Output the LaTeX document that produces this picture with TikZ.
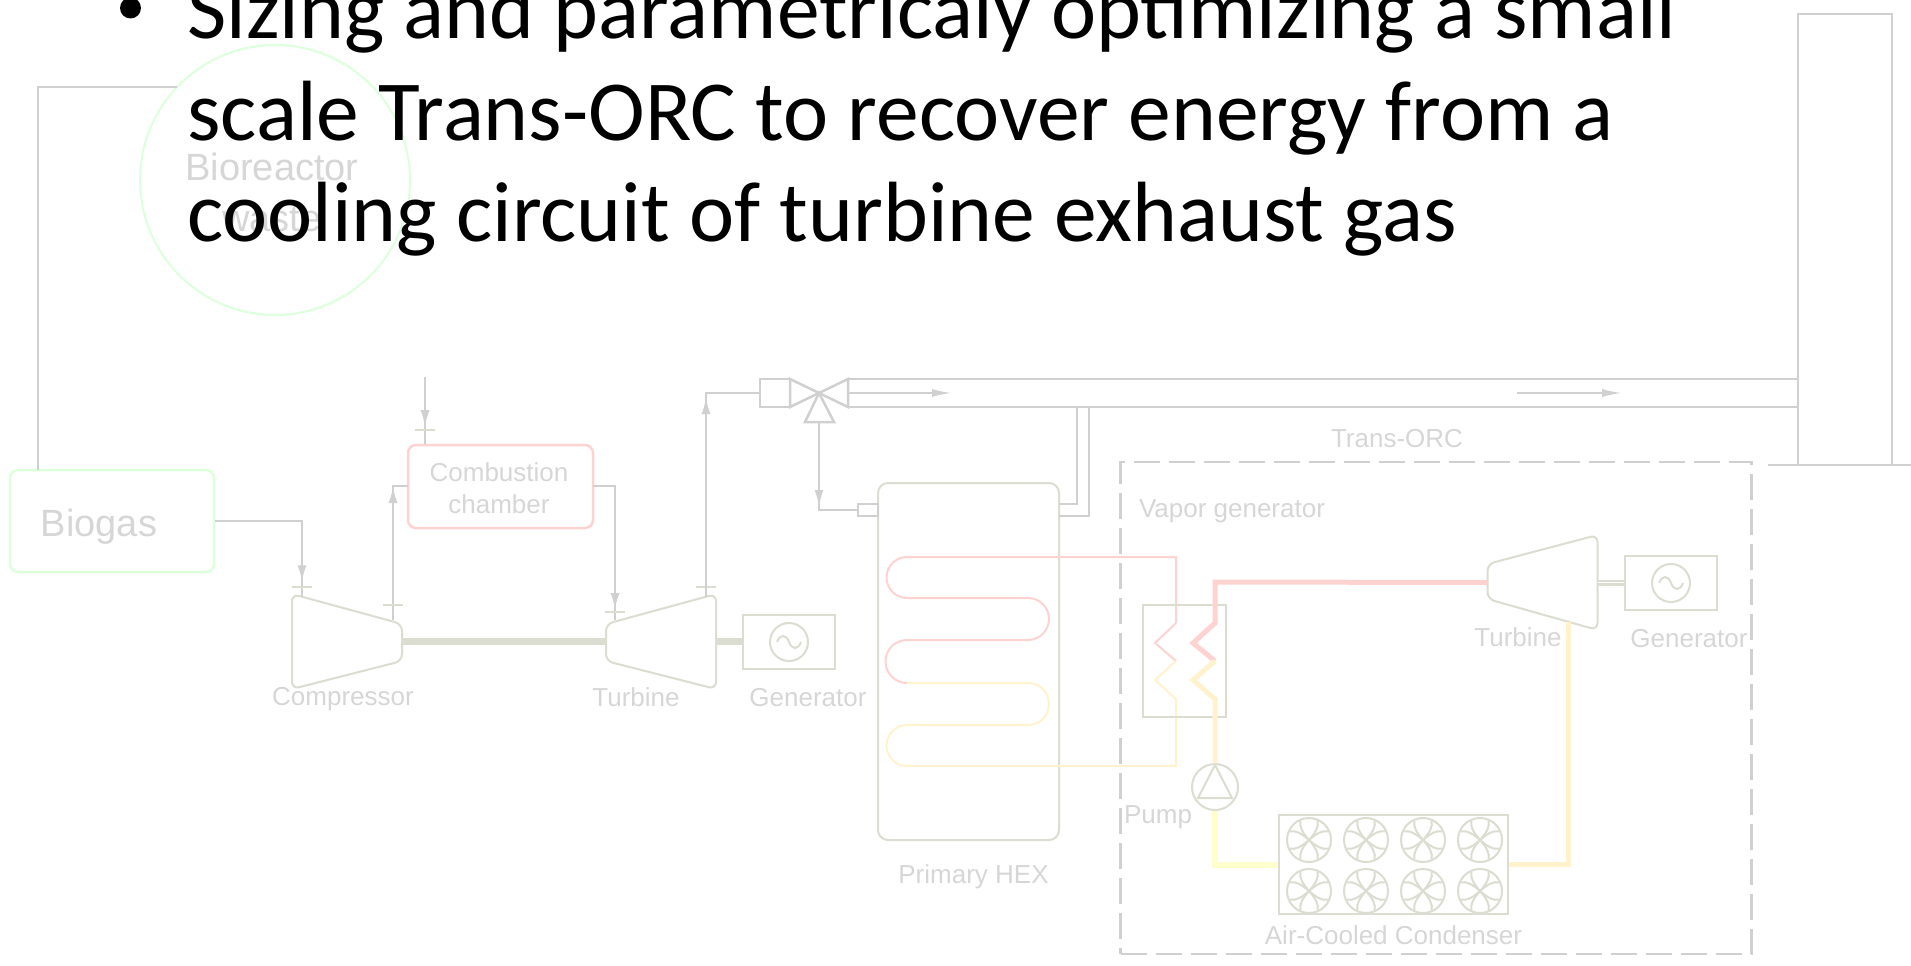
\documentclass[tikz,border=0pt]{standalone}
\usepackage{fontspec}
\setmainfont{Liberation Sans}
\newfontfamily\titlefont{Carlito}
\usetikzlibrary{arrows.meta,positioning,calc,shapes.geometric,decorations.markings}
\definecolor{pipegray}{RGB}{208,208,208}
\definecolor{eqgray}{RGB}{218,221,208}
\definecolor{labelgray}{RGB}{214,214,214}
\definecolor{softgreen}{RGB}{220,255,220}
\definecolor{softred}{RGB}{255,210,210}
\definecolor{softyellow}{RGB}{255,242,205}
\definecolor{brightyellow}{RGB}{255,255,205}
\newcommand{\fanblades}[1]{%
  \foreach \a in {0,90,180,270}{
    \draw[eqline] (#1) .. controls ($(#1)+(\a+42:10pt)$) and ($(#1)+(\a+36:17pt)$) .. ($(#1)+(\a+24:21pt)$);
    \draw[eqline] (#1) .. controls ($(#1)+(\a-42:10pt)$) and ($(#1)+(\a-36:17pt)$) .. ($(#1)+(\a-24:21pt)$);
  }}
\newcommand{\acwave}[1]{%
  \draw[eqline] ($(#1)+(-12pt,0pt)$) .. controls ($(#1)+(-9pt,8pt)$) and ($(#1)+(-3pt,8pt)$) .. (#1)
    .. controls ($(#1)+(3pt,-8pt)$) and ($(#1)+(9pt,-8pt)$) .. ($(#1)+(12pt,0pt)$);}
\begin{document}
\begin{tikzpicture}[
  x=1pt,y=-1pt,
  pipe/.style={draw=pipegray,line width=2.5pt},
  eqline/.style={draw=eqgray,line width=2pt},
  lbl/.style={text=labelgray,font=\fontsize{26}{32}\selectfont,inner sep=0pt,align=center},
  bigtxt/.style={text=labelgray,font=\fontsize{38}{51}\selectfont,inner sep=0pt,align=center},
  linetxt/.style={anchor=base west,inner sep=0pt,font=\titlefont\fontsize{85.5}{100}\selectfont},
  turbo/.style={minimum width=110pt,minimum height=95pt,inner sep=0pt,outer sep=0pt},
  genbox/.style={draw=eqgray,line width=2pt,minimum width=92pt,minimum height=54pt,inner sep=0pt},
  gencirc/.style={circle,draw=eqgray,line width=2pt,minimum size=38pt,inner sep=0pt},
  midarr/.style={postaction={decorate},decoration={markings,mark=at position #1 with {\arrow{Latex[length=17pt,width=9pt]}}}},
  arr/.style={-{Latex[length=20pt,width=8pt]},draw=pipegray,line width=2pt},
  tickmark/.style={draw=eqgray,line width=2pt},
  hotthin/.style={draw=softred,line width=2pt},
  coldthin/.style={draw=softyellow,line width=2pt},
  hotthick/.style={draw=softred,line width=5pt},
  coldthick/.style={draw=softyellow,line width=5pt},
]
\useasboundingbox (0,0) rectangle (1911,966);
% Bioreactor and biogas
\node[circle,draw=softgreen,line width=2pt,minimum size=270pt,inner sep=0pt] (bio) at (275,180) {};
\node[bigtxt] (biotxt) at (272,192) {Bioreactor\\waste};
\node[draw=softgreen,line width=2.5pt,rounded corners=8pt,minimum width=204pt,minimum height=102pt] (biogas) at (112,521) {};
\node[bigtxt,anchor=base] (biogastxt) at (99,536) {Biogas};
% Gas turbine train
\node[draw=softred,line width=2.5pt,rounded corners=8pt,minimum width=185pt,minimum height=83pt,lbl] (cc) at (500.5,486.5) {};
\node[lbl] (cctxt) at (499,488) {Combustion\\chamber};
\node[turbo] (comp) at (347,641.5) {};
\draw[eqline,rounded corners=7pt] (comp.north west) -- ($(comp.north east)+(0,30)$)
  -- ($(comp.south east)+(0,-28)$) -- (comp.south west) -- cycle;
\node[turbo] (turb) at (661,641.5) {};
\draw[eqline,rounded corners=7pt] (turb.north east) -- ($(turb.north west)+(0,30)$)
  -- ($(turb.south west)+(0,-28)$) -- (turb.south east) -- cycle;
\node[genbox,right=26pt of turb] (gen) {};
\node[gencirc] (genc) at (789,642) {};
\acwave{genc.center}
\node[lbl] (comptxt) at (343,699) {Compressor};
\node[lbl] (turbtxt) at (636,697) {Turbine};
\node[lbl] (gentxt) at (808,698) {Generator};
\draw[eqline,line width=7pt] (comp) -- (turb);
\draw[eqline,line width=7pt] (turb) -- (gen);
% Gas connections
\coordinate (gasup) at (38,470);
\coordinate (bioin) at (177,87);
\coordinate (compin) at (302,597);
\coordinate (compout) at (393,620);
\coordinate (ccin) at (408,486);
\coordinate (ccout) at (593,486);
\coordinate (turbin) at (615,620);
\coordinate (turbout) at (706,597);
\coordinate (fuel) at (425,377);
\draw[pipe] (gasup) |- (bioin);
\draw[pipe,midarr=148pt] (biogas.east) -| (compin);
\draw[pipe,midarr=134pt] (compout) |- (ccin);
\draw[pipe,midarr=146pt] (ccout) -| (turbin);
\draw[pipe,line width=1.6pt,midarr=50pt] (fuel) -- (fuel |- cc.north);
\foreach \x/\y in {302/587,425/430,393/605,615/612,706/587}
  \draw[tickmark] (\x-10,\y) -- (\x+10,\y);
% Diverter valve and exhaust duct
\node[pipe,line width=2.5pt,minimum width=30pt,minimum height=28pt,inner sep=0pt] (vin) at (775,393) {};
\coordinate (vc) at (819,393);
\draw[pipe] (vc) -- (790,379) -- (790,407) -- cycle;
\draw[pipe] (vc) -- (848,379) -- (848,407) -- cycle;
\draw[pipe] (vc) -- (805,422) -- (834,422) -- cycle;
\draw[pipe,midarr=200pt] (turbout) |- (vin.west);
% Stack
\node[pipe,minimum width=94pt,minimum height=451pt,inner sep=0pt] (stack) at (1845,239.5) {};
\coordinate (basel) at (1768,465);
\coordinate (baser) at (1911,465);
\draw[pipe] (basel) -- (baser);
\coordinate (ducttop) at (848,379);
\coordinate (ductbot) at (848,407);
\draw[pipe] (ducttop) -- (ducttop -| stack.west);
\draw[pipe] (ductbot) -- (ductbot -| stack.west);
\coordinate (flowo) at (848,393);
\coordinate (flowa) at (952,393);
\coordinate (flowb) at (1517,393);
\coordinate (flowc) at (1622,393);
\draw[arr] (flowo) -- (flowa);
\draw[arr] (flowb) -- (flowc);
% Primary HEX
\node[draw=eqgray,line width=2pt,rounded corners=10pt,minimum width=181pt,minimum height=357pt,inner sep=0pt] (hex) at (968.5,661.5) {};
\node[lbl,below=23pt of hex,xshift=5pt] (hextxt) {Primary HEX};
\node[pipe,minimum width=20pt,minimum height=12pt,inner sep=0pt] (hexin) at (868,510) {};
\coordinate (hexa) at (1059,504);
\coordinate (hexb) at (1059,516);
\coordinate (ducta) at (1077,407);
\coordinate (ductb) at (1089,407);
\draw[pipe] (ducta) |- (hexa);
\draw[pipe] (ductb) |- (hexb);
\coordinate (vbot) at (819,422);
\draw[pipe,midarr=85pt] (vbot) |- (hexin.west);
% Coil through the HEX
\draw[hotthin] (1176,623) -- (1176,557) -- (907,557) arc[start angle=90,end angle=270,radius=20.5pt]
  -- (1028,598) arc[start angle=90,end angle=-90,radius=21pt]
  -- (907,640) arc[start angle=90,end angle=270,radius=21.5pt];
\draw[coldthin] (907,683) -- (1028,683) arc[start angle=90,end angle=-90,radius=21pt]
  -- (907,725) arc[start angle=90,end angle=270,radius=20.5pt]
  -- (1176,766) -- (1176,699);
% Trans-ORC
\node[pipe,dash pattern=on 26pt off 9pt,minimum width=631pt,minimum height=492pt,inner sep=0pt] (orc) at (1436,708) {};
\node[lbl] (orctxt) at (1397,439) {Trans-ORC};
\node[lbl] (vgtxt) at (1232,511) {Vapor generator};
\node[draw=eqgray,line width=2pt,minimum width=83pt,minimum height=112pt,inner sep=0pt] (vg) at (1184.5,661) {};
\draw[hotthin] (1176,623) -- (1155,643) -- (1176,661);
\draw[coldthin] (1176,661) -- (1155,680) -- (1176,699);
\node[turbo] (oturb) at (1542.5,582.5) {};
\draw[eqline,rounded corners=7pt] (oturb.north east) -- ($(oturb.north west)+(0,29)$)
  -- ($(oturb.south west)+(0,-31)$) -- (oturb.south east) -- cycle;
\node[genbox,right=26pt of oturb] (ogen) {};
\node[gencirc] (ogenc) at (1671,583) {};
\acwave{ogenc.center}
\draw[eqline,line width=6pt] (oturb) -- (ogen);
\draw[white,line width=1.5pt] (oturb) -- (ogen);
\node[lbl] (oturbtxt) at (1518,637) {Turbine};
\node[lbl] (ogentxt) at (1689,639) {Generator};
\node[circle,eqline,minimum size=46pt,inner sep=0pt] (pump) at (1215,787) {};
\draw[eqline] (1215,765) -- (1198,798) -- (1232,798) -- cycle;
\node[lbl] (pumptxt) at (1158,817) {Pump};
\node[draw=eqgray,line width=2pt,minimum width=229pt,minimum height=99pt,inner sep=0pt] (acc) at (1393.5,864.5) {};
\node[lbl,below=10pt of acc] (acctxt) {Air-Cooled Condenser};
\foreach \x [count=\i] in {1309,1366,1423,1480}{
  \node[circle,eqline,minimum size=44pt,inner sep=0pt] (fa\i) at (\x,840) {};
  \node[circle,eqline,minimum size=44pt,inner sep=0pt] (fb\i) at (\x,891) {};
  \fanblades{fa\i.center}
  \fanblades{fb\i.center}
}
% ORC loop
\coordinate (orcz) at (1215,623);
\coordinate (turbexit) at (1568,622);
\draw[hotthick] (oturb.west) -- (1215,582) -- (orcz) -- (1193,643) -- (1215,661);
\draw[coldthick] (1215,661) -- (1193,680) -- (1215,699) -- (pump.north);
\draw[draw=brightyellow,line width=6pt] (pump.south) |- (acc.west);
\draw[coldthick] (turbexit) |- (acc.east);
% Slide text
\fill (130.5,8) circle[radius=10.5pt];
\node[linetxt] (la) at (187,39) {Sizing and parametricaly optimizing a small};
\node[linetxt] (lb) at (187,140) {scale Trans-ORC to recover energy from a};
\node[linetxt] (lc) at (187,241) {cooling circuit of turbine exhaust gas};
\end{tikzpicture}
\end{document}
